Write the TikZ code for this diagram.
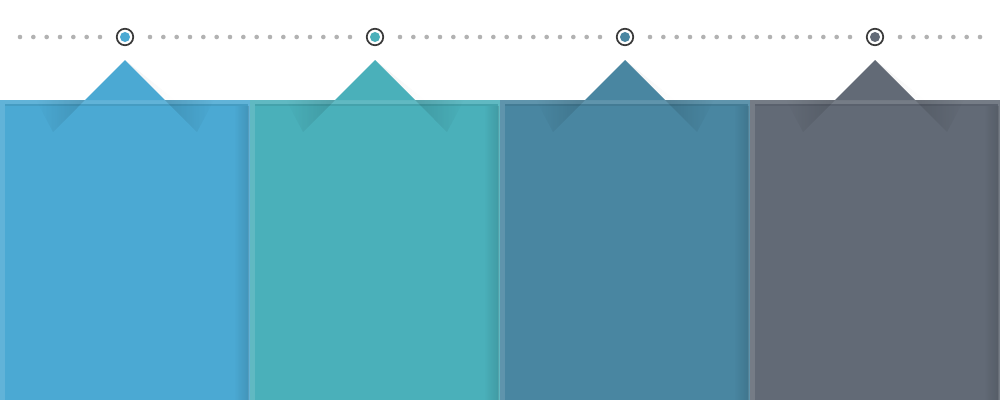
\documentclass[tikz,border=0pt]{standalone}
\usetikzlibrary{fadings}
\definecolor{cA}{HTML}{4BA9D3}
\definecolor{cB}{HTML}{4AB0BA}
\definecolor{cC}{HTML}{4986A1}
\definecolor{cD}{HTML}{626A76}
\definecolor{dotgray}{HTML}{B2B2B2}
\definecolor{ringgray}{HTML}{3A3A3A}
\tikzset{
  smalldot/.style={circle,fill=dotgray,inner sep=0pt,minimum size=4.6pt},
  ringnode/.style={circle,draw=ringgray,line width=1.7pt,fill=white,inner sep=0pt,minimum size=16.5pt},
  coredot/.style={circle,inner sep=0pt,minimum size=10pt},
}
\begin{document}
\begin{tikzpicture}[x=1pt,y=-1pt]
\useasboundingbox (0,0) rectangle (1000,400);
\fill[white] (0,0) rectangle (1000,400);
% dotted timeline
\foreach \k in {0,...,6} \node[smalldot] (dl\k) at ({20+\k*13.333},37) {};
\foreach \k in {0,...,6} \node[smalldot] (dr\k) at ({900+\k*13.333},37) {};
\foreach \s in {125,375,625} {
  \foreach \k in {0,...,15} \node[smalldot] (dm\s-\k) at ({\s+25+\k*13.333},37) {};
}
% panels
\foreach \i/\c in {0/cA,1/cB,2/cC,3/cD} {
  \pgfmathsetmacro{\xo}{250*\i}
  % outer frame (slightly lighter)
  \fill[\c!88!white] (\xo,100) rectangle (\xo+250,400);
  % inner card with soft top edge
  \fill[\c!92!black] (\xo+4.5,103.5) rectangle (\xo+248,400);
  \fill[\c] (\xo+4.5,105.5) rectangle (\xo+248,400);
  \fill[black,fill opacity=0.12,path fading=west] (\xo+234,105.5) rectangle (\xo+248.5,400);
  % faint drop shadow of flap above the panel
  \fill[black,fill opacity=0.05,path fading=east] (\xo+125,60) -- (\xo+165,100) -- (\xo+175,100) -- cycle;
  % flap
  \fill[\c] (\xo+125,60) -- (\xo+85,100) -- (\xo+165,100) -- cycle;
  % shadow bands on the card
  \fill[black,fill opacity=0.13,path fading=west] (\xo+85,100) -- (\xo+53,132) -- (\xo+36,100) -- cycle;
  \fill[black,fill opacity=0.13,path fading=east] (\xo+165,100) -- (\xo+197,132) -- (\xo+214,100) -- cycle;
  % ring marker
  \node[ringnode] (ring\i) at (\xo+125,37) {};
  \node[coredot,fill=\c] (core\i) at (ring\i) {};
}
\end{tikzpicture}
\end{document}
